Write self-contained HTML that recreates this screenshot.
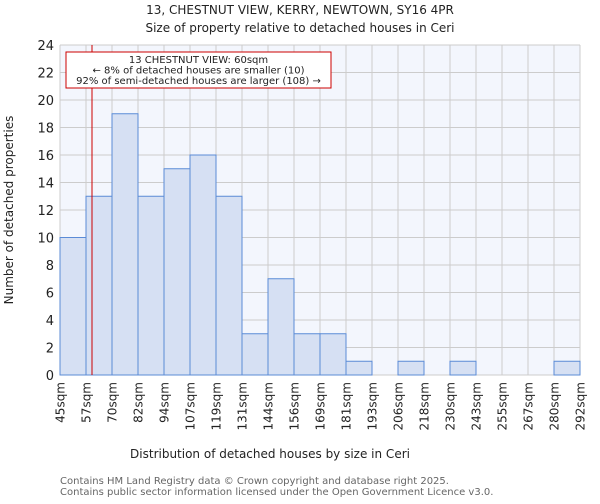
<!DOCTYPE html>
<html><head><meta charset="utf-8"><style>
body{margin:0;background:#fff;font-family:"DejaVu Sans","Liberation Sans",sans-serif;}
</style></head><body>
<svg width="600" height="500" xmlns="http://www.w3.org/2000/svg" font-family="DejaVu Sans, Liberation Sans, sans-serif">
<text x="300" y="14" text-anchor="middle" font-size="12" fill="#222">13, CHESTNUT VIEW, KERRY, NEWTOWN, SY16 4PR</text>
<text x="300" y="32" text-anchor="middle" font-size="12" fill="#222">Size of property relative to detached houses in Ceri</text>
<rect x="60" y="45" width="520" height="330" fill="#f3f6fd"/>
<g id="grid"></g><g id="bars"></g><g id="axes"></g>
<text x="270" y="458" text-anchor="middle" font-size="12" fill="#222">Distribution of detached houses by size in Ceri</text>
<text transform="translate(13,210) rotate(-90)" text-anchor="middle" font-size="12" fill="#222">Number of detached properties</text>
<text x="60" y="484" font-size="10" fill="#666">Contains HM Land Registry data © Crown copyright and database right 2025.</text>
<text x="60" y="495" font-size="10" fill="#666">Contains public sector information licensed under the Open Government Licence v3.0.</text>
</svg>
<script>
const binLabels=["45sqm","57sqm","70sqm","82sqm","94sqm","107sqm","119sqm","131sqm","144sqm","156sqm","169sqm","181sqm","193sqm","206sqm","218sqm","230sqm","243sqm","255sqm","267sqm","280sqm","292sqm"];
const counts=[10,13,19,13,15,16,13,3,7,3,3,1,0,1,0,1,0,0,0,1];
const yTicks=[0,2,4,6,8,10,12,14,16,18,20,22,24];
const markerValue=60;
const markerBinStart=57, markerBinEnd=70, markerBinIndex=1;
const NS="http://www.w3.org/2000/svg";
const X0=60,X1=580,Y0=375,Y1=45,YMAX=24;
const bw=(X1-X0)/counts.length;
const xs=i=>X0+i*bw;
const ys=v=>Y0-(Y0-Y1)*v/YMAX;
function mk(p,t,a){const e=document.createElementNS(NS,t);for(const k in a)e.setAttribute(k,a[k]);p.appendChild(e);return e;}
const grid=document.getElementById('grid'),bars=document.getElementById('bars'),axes=document.getElementById('axes');
yTicks.forEach(v=>{
 const l=mk(grid,'line',{x1:X0,x2:X1,y1:ys(v),y2:ys(v),stroke:'#ccc','stroke-width':1});
 
 
 const t=mk(axes,'text',{x:X0-6,y:ys(v)+5,'text-anchor':'end','font-size':13,fill:'#222'});
 t.textContent=v;
 
 
});
binLabels.forEach((s,i)=>{
 const x=xs(i);
 const l=mk(grid,'line',{x1:x,x2:x,y1:Y1,y2:Y0,stroke:'#ccc','stroke-width':1});
 
 
 const t=mk(axes,'text',{transform:`translate(${x+4.5},${Y0+7}) rotate(-90)`,'text-anchor':'end','font-size':12,fill:'#222'});
 t.textContent=s;
 
 
});
counts.forEach((c,i)=>{
 if(c<=0)return;
 const r=mk(bars,'rect',{x:xs(i),y:ys(c),width:bw,height:Y0-ys(c),fill:'#d6e0f3',stroke:'#5b8bd6','stroke-width':1});
 
 
});
const mx=xs(markerBinIndex)+bw*(markerValue-markerBinStart)/(markerBinEnd-markerBinStart);
const ml=mk(axes,'line',{x1:mx,x2:mx,y1:Y1,y2:Y0,stroke:'#c00','stroke-width':1});


const box=mk(axes,'rect',{x:66,y:52,width:265,height:36,fill:'#fff',stroke:'#c00','stroke-width':1});


["13 CHESTNUT VIEW: 60sqm","← 8% of detached houses are smaller (10)","92% of semi-detached houses are larger (108) →"].forEach((s,i)=>{
 const t=mk(axes,'text',{x:198.5,y:63+i*10.5,'text-anchor':'middle','font-size':10,fill:'#222'});
 t.textContent=s;
 
 
});
</script>
</body></html>
